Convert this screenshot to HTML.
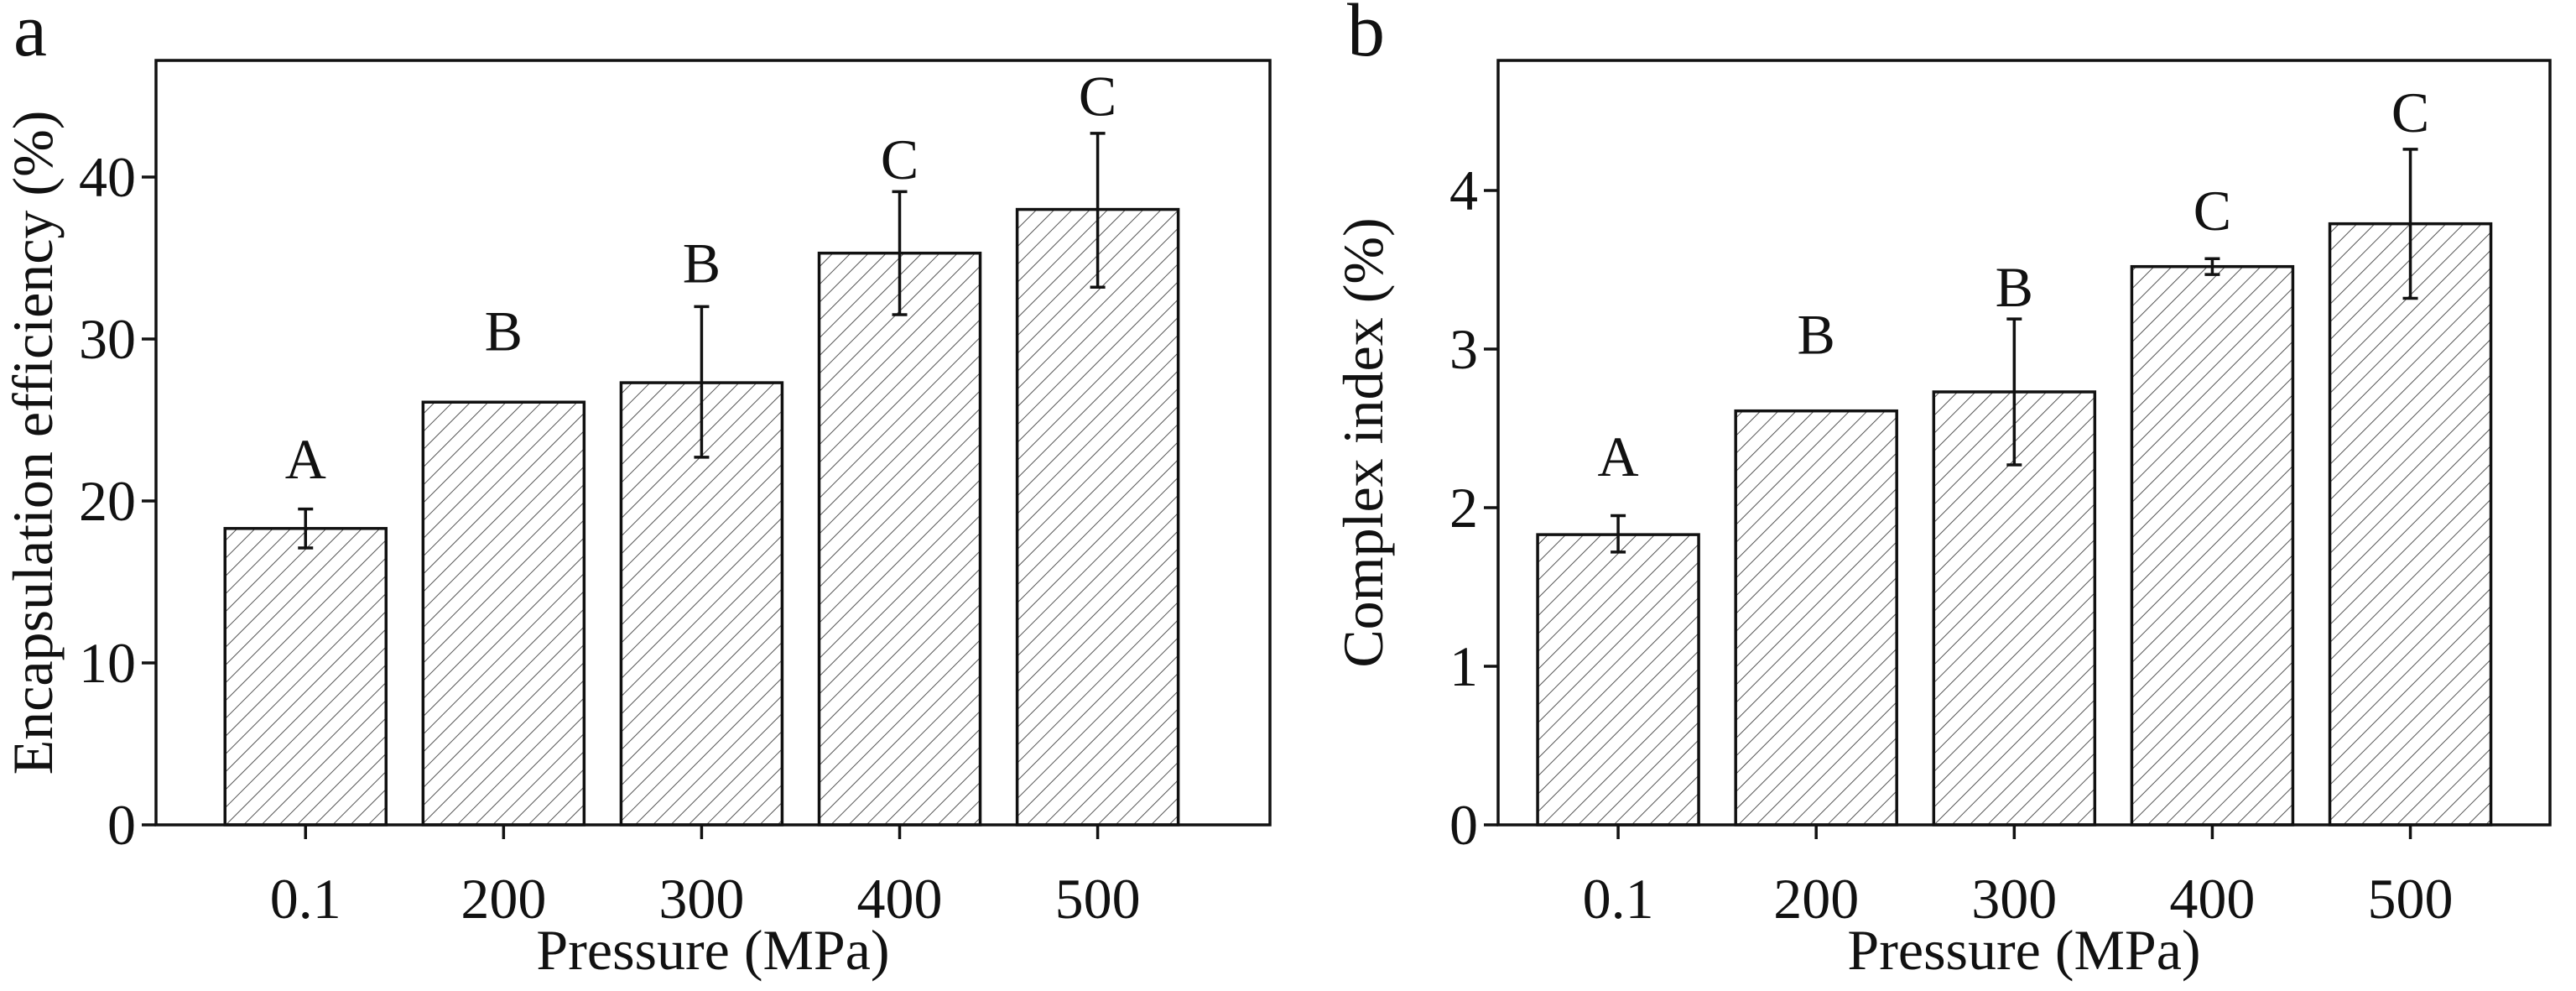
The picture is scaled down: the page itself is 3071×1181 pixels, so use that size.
<!DOCTYPE html>
<html><head><meta charset="utf-8"><style>
html,body{margin:0;padding:0;background:#fff;}
svg{display:block;font-family:"Liberation Serif",serif;}
</style></head><body>
<svg id="chart" width="3071" height="1181" viewBox="0 0 3071 1181" xmlns="http://www.w3.org/2000/svg">
<defs>
<pattern id="hatch" patternUnits="userSpaceOnUse" width="15" height="15" patternTransform="rotate(45)">
<rect width="15" height="15" fill="#fff"/>
<line x1="0" y1="0" x2="0" y2="15" stroke="#555" stroke-width="2"/>
</pattern>
</defs>
</svg>
<script>
const categories = ["0.1","200","300","400","500"];
const efficiencyValues = [18.3, 26.1, 27.3, 35.3, 38.0];
const efficiencyLow = [17.1, 26.1, 22.7, 31.5, 33.2];
const efficiencyHigh = [19.5, 26.1, 32.0, 39.1, 42.7];
const efficiencyLetters = ["A","B","B","C","C"];
const efficiencyLetterY = [21.4, 29.3, 33.5, 39.9, 43.8];
const efficiencyTicks = [0,10,20,30,40];
const complexValues = [1.83, 2.61, 2.73, 3.52, 3.79];
const complexLow = [1.72, 2.61, 2.27, 3.47, 3.32];
const complexHigh = [1.95, 2.61, 3.19, 3.57, 4.26];
const complexLetters = ["A","B","B","C","C"];
const complexLetterY = [2.2, 2.97, 3.27, 3.75, 4.37];
const complexTicks = [0,1,2,3,4];

const svg = document.getElementById('chart');
const NS = 'http://www.w3.org/2000/svg';
const FS = 68;
function mk(tag, attrs, parent){
  const e = document.createElementNS(NS, tag);
  for (const k in attrs) e.setAttribute(k, attrs[k]);
  (parent||svg).appendChild(e); return e;
}
function panel(cfg){
  const g = mk('g', {});
  
  
  const {L,R,T,B,xmin,xmax,ymax} = cfg;
  const xs = i => L + (i+1 - xmin)/(xmax-xmin)*(R-L);
  const ys = v => B - v/ymax*(B-T);
  const bw = 192;
  cfg.values.forEach((v,i)=>{
    const r = mk('rect', {x: xs(i)-bw/2, y: ys(v), width: bw, height: B-ys(v), fill:'url(#hatch)', stroke:'#111', 'stroke-width':3.5}, g);
    
    
    if (cfg.high[i] > cfg.low[i]) {
      const eb = mk('g', {stroke:'#111','stroke-width':3.5}, g);
      
      
      mk('line', {x1:xs(i), x2:xs(i), y1:ys(cfg.low[i]), y2:ys(cfg.high[i])}, eb);
      mk('line', {x1:xs(i)-9, x2:xs(i)+9, y1:ys(cfg.low[i]), y2:ys(cfg.low[i])}, eb);
      mk('line', {x1:xs(i)-9, x2:xs(i)+9, y1:ys(cfg.high[i]), y2:ys(cfg.high[i])}, eb);
    }
    const t = mk('text', {x: xs(i), y: ys(cfg.letterY[i]), 'text-anchor':'middle', 'font-size':FS, fill:'#111'}, g);
    t.textContent = cfg.letters[i];
    
    
    mk('line', {x1:xs(i), x2:xs(i), y1:B, y2:B+17, stroke:'#111','stroke-width':3.5}, g);
    const xl = mk('text', {x: xs(i), y: 1094, 'text-anchor':'middle', 'font-size':FS, fill:'#111'}, g);
    xl.textContent = categories[i];
    
    
  });
  cfg.ticks.forEach(tv=>{
    mk('line', {x1:L-17, x2:L, y1:ys(tv), y2:ys(tv), stroke:'#111','stroke-width':3.5}, g);
    const yl = mk('text', {x: L-24, y: ys(tv)+23, 'text-anchor':'end', 'font-size':FS, fill:'#111'}, g);
    yl.textContent = tv;
    
    
  });
  const fr = mk('rect', {x:L, y:T, width:R-L, height:B-T, fill:'none', stroke:'#111','stroke-width':3.5}, g);
  
  
  const xt = mk('text', {x:(L+R)/2, y:1155, 'text-anchor':'middle', 'font-size':FS, fill:'#111'}, g);
  xt.textContent = 'Pressure (MPa)';
  
  
  const yt = mk('text', {x:0, y:0, 'text-anchor':'middle', 'font-size':FS, fill:'#111', transform:`translate(${cfg.ytx},${(T+B)/2}) rotate(-90)`}, g);
  yt.textContent = cfg.ytitle;
  
  
  const pl = mk('text', {x:cfg.plx, y:66, 'font-size':90, fill:'#111'}, g);
  pl.textContent = cfg.plabel;
  
  
}
panel({name:'panel-a-encapsulation', L:186, R:1514, T:72, B:983, xmin:0.245, xmax:5.87, ymax:47.2,
  values:efficiencyValues, low:efficiencyLow, high:efficiencyHigh, letters:efficiencyLetters, letterY:efficiencyLetterY,
  ticks:efficiencyTicks, ytitle:'Encapsulation efficiency (%)', ytx:62, plabel:'a', plx:16});
panel({name:'panel-b-complex-index', L:1786, R:3040, T:72, B:983, xmin:0.394, xmax:5.705, ymax:4.82,
  values:complexValues, low:complexLow, high:complexHigh, letters:complexLetters, letterY:complexLetterY,
  ticks:complexTicks, ytitle:'Complex index (%)', ytx:1648, plabel:'b', plx:1606});
</script>
</body></html>
